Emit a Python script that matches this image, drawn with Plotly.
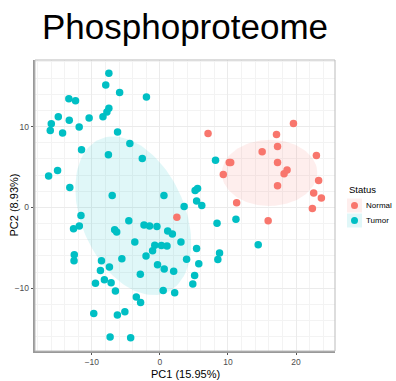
import numpy as np
import plotly.graph_objects as go

# ---- data ----
normal_pc1 = [7.07, 19.62, 17.13, 17.28, 15.02, 22.99, 10.19, 10.40, 17.28, 18.68,
              18.24, 9.31, 23.32, 17.28, 22.59, 23.72, 11.27, 22.40, 15.90, 2.49]
normal_pc2 = [9.15, 10.38, 9.02, 7.54, 6.88, 6.42, 5.56, 5.56, 5.56, 4.62,
              4.16, 4.07, 3.33, 2.67, 1.77, 1.15, 0.57, -0.14, -1.66, -1.23]

tumor_pc1 = [-7.50, -7.96, -5.92, -1.98, -13.38, -12.40, -7.50, -7.79, -14.93, -10.40,
             -8.37, -13.32, -15.96, -11.86, -16.11, -14.30, -6.22, -4.42, -11.52, -7.57,
             -2.59, 8.17, -15.04, -16.35, -13.24, -7.01, 0.59, 5.17, 5.53, 5.39,
             6.15, 3.56, -11.60, -12.69, -11.84, -6.65, -6.35, -4.57, -2.34, -1.52,
             -0.44, 1.14, 1.83, 8.39, 11.17, -3.69, -0.76, 0.22, 1.04, -1.08,
             3.09, 5.39, 14.44, 8.76, 3.92, 8.51, -2.04, -5.59, -8.59, -12.58,
             -12.62, -7.42, -8.74, -9.47, -8.16, -7.17, -2.88, -0.35, 0.63, 2.02,
             5.71, 5.10, 4.83, -6.54, 0.48, 2.17, -3.47, -2.84, -9.72, -6.25,
             -5.15, -7.32, -4.30]
tumor_pc2 = [16.60, 15.14, 14.22, 13.66, 13.44, 13.19, 12.26, 11.79, 11.21, 11.06,
             11.21, 10.78, 10.35, 9.95, 9.52, 9.20, 9.33, 7.91, 7.13, 6.51,
             6.04, 5.83, 4.57, 3.89, 2.46, 1.46, 1.46, 2.08, 2.34, 0.78,
             0.22, 0.10, -1.01, -2.65, -2.31, -2.77, -3.06, -1.66, -2.19, -2.31,
             -2.36, -2.93, -3.29, -1.97, -1.47, -4.28, -4.69, -4.73, -4.78, -5.37,
             -4.28, -5.09, -4.63, -5.66, -6.42, -6.46, -6.03, -6.36, -6.61, -5.87,
             -6.61, -7.38, -7.81, -9.39, -8.96, -9.33, -8.28, -7.10, -7.64, -7.91,
             -6.98, -8.43, -9.49, -10.35, -10.28, -10.57, -11.09, -11.78, -13.13, -13.33,
             -12.92, -16.05, -16.14]

groups = ["Normal", "Tumor"]
colors = {"Normal": "#F8766D", "Tumor": "#00BFC4"}
fills = {"Normal": "rgba(248,118,109,0.12)", "Tumor": "rgba(0,191,196,0.12)"}
data = {"Normal": (normal_pc1, normal_pc2), "Tumor": (tumor_pc1, tumor_pc2)}

x_ticks = [-10, 0, 10, 20]
y_ticks = [-10, 0, 10]
title_text = "Phosphoproteome"
x_title = "PC1 (15.95%)"
y_title = "PC2 (8.93%)"
legend_title = "Status"
ellipse_level = 0.5

FONT = "Liberation Sans, Arial, sans-serif"


def ellipse(xs, ys, level, n=120):
    xs = np.asarray(xs); ys = np.asarray(ys)
    c = np.cov(np.vstack([xs, ys]))
    vals, vecs = np.linalg.eigh(c)
    r = np.sqrt(-2 * np.log(1 - level))
    t = np.linspace(0, 2 * np.pi, n)
    circ = np.vstack([np.cos(t), np.sin(t)])
    pts = vecs @ (np.sqrt(vals)[:, None] * circ) * r
    return pts[0] + xs.mean(), pts[1] + ys.mean()


fig = go.Figure()
for g in groups:
    ex, ey = ellipse(*data[g], ellipse_level)
    fig.add_trace(go.Scatter(x=ex, y=ey, mode="lines", fill="toself",
                             fillcolor=fills[g], line=dict(width=0),
                             showlegend=False, hoverinfo="skip"))
for g in groups:
    fig.add_trace(go.Scatter(x=data[g][0], y=data[g][1], mode="markers", name=g,
                             marker=dict(color=colors[g], size=7.5), showlegend=False))

allx = normal_pc1 + tumor_pc1
ally = normal_pc2 + tumor_pc2
def rng(v):
    lo, hi = min(v), max(v)
    d = (hi - lo) * 0.05
    return [lo - d, hi + d]

W, H = 396, 381
ML, MR, MT, MB = 35, 61, 60, 30
PW, PH = W - ML - MR, H - MT - MB

grid = "#EBEBEB"
axis_common = dict(showgrid=True, gridcolor=grid, gridwidth=1, zeroline=False,
                   ticks="outside", ticklen=2.5, tickcolor="#555555",
                   tickfont=dict(family=FONT, size=8.5, color="#4D4D4D"),
                   showline=True, linecolor="#999999", linewidth=1.5,
                   minor=dict(showgrid=True, gridcolor="#F3F3F3", gridwidth=1))

fig.update_layout(
    width=W, height=H,
    margin=dict(l=ML, r=MR, t=MT, b=MB, autoexpand=False),
    paper_bgcolor="white", plot_bgcolor="white",
    title=dict(text=title_text, x=0.5, xref="paper", y=0.93, yref="container",
               yanchor="middle", xanchor="center",
               font=dict(family=FONT, size=35, color="black")),
    xaxis=dict(range=rng(allx), tickvals=x_ticks, **axis_common),
    yaxis=dict(range=rng(ally), tickvals=y_ticks, **axis_common),
    showlegend=False,
)
fig.add_shape(type="rect", xref="paper", yref="paper", x0=0, y0=0, x1=1, y1=1,
              line=dict(color="#BBBBBB", width=1), layer="above")
fig.add_annotation(text=x_title, xref="paper", yref="paper", x=0.5, y=0,
                   yshift=-15, yanchor="top", showarrow=False,
                   font=dict(family=FONT, size=11, color="black"))
fig.add_annotation(text=y_title, xref="paper", yref="paper", x=0, y=0.5,
                   xshift=-22, xanchor="center", textangle=-90, showarrow=False,
                   font=dict(family=FONT, size=11, color="black"))

# ---- legend (drawn manually in pixel positions) ----
def px_x(px):
    return (px - ML) / PW
def px_y(py):
    return (H - MB - py) / PH

fig.add_annotation(text=legend_title, xref="paper", yref="paper",
                   x=px_x(347), y=px_y(189), xanchor="left", yanchor="middle",
                   showarrow=False, font=dict(family=FONT, size=9.5, color="black"))
key_top = 198
key_h = 15
for i, g in enumerate(groups):
    cy = key_top + key_h * i + key_h / 2
    fig.add_shape(type="rect", xref="paper", yref="paper",
                  x0=px_x(347), x1=px_x(362), y0=px_y(cy - key_h / 2 + 0.5),
                  y1=px_y(cy + key_h / 2 - 0.5),
                  fillcolor=fills[g], line=dict(width=0))
    fig.add_shape(type="circle", xref="paper", yref="paper",
                  xsizemode="pixel", ysizemode="pixel",
                  xanchor=px_x(354.5), yanchor=px_y(cy),
                  x0=-3.5, x1=3.5, y0=-3.5, y1=3.5,
                  fillcolor=colors[g], line=dict(width=0))
    fig.add_annotation(text=g, xref="paper", yref="paper",
                       x=px_x(364), y=px_y(cy), xanchor="left", yanchor="middle",
                       showarrow=False, font=dict(family=FONT, size=8, color="black"))

fig.write_html("out.html")
